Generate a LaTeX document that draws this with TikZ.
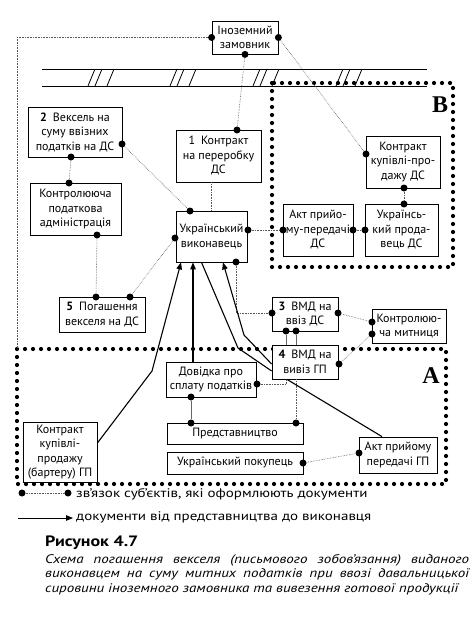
\documentclass[tikz,border=0pt]{standalone}
\usepackage{fontspec}
\setmainfont{PT Sans}
\newfontfamily\widefont{PT Sans}[FakeStretch=1.2]
\newfontfamily\letterfont{Liberation Serif}
\usetikzlibrary{arrows.meta}

\tikzset{
  box/.style={draw, line width=0.8pt, fill=white, align=center, inner sep=1pt,
    font=\fontsize{12}{14.5}\selectfont},
  dot/.style={circle, fill, inner sep=0pt, minimum size=7pt},
  link/.style={black!65, line width=0.6pt, densely dotted},
  tie/.style={black!60, line width=0.8pt},
  region/.style={line width=4.2pt, dash pattern=on 0pt off 8pt, line cap=round},
  doc/.style={line width=1.1pt, -{Triangle[length=7pt,width=5.5pt]}},
  plain/.style={line width=1.1pt},
  letter/.style={font=\letterfont\bfseries\fontsize{24}{24}\selectfont},
  legend/.style={anchor=west, inner sep=0pt, font=\widefont\fontsize{12.5}{14}\selectfont}
}

\begin{document}
\begin{tikzpicture}[x=1pt,y=-1pt]
    \useasboundingbox (0,0) rectangle (471,623);

    % Border line with hatches
    \draw[line width=0.8pt] (42,69) -- (427,69);
    \draw[line width=0.8pt] (42,86) -- (427,86);
    \foreach \h in {88,170,253,336}
      \foreach \s in {0,7,19}
        \draw[line width=0.8pt] ({\h+\s},86) -- ({\h+\s+7},69);

    % Regions B and A
    \draw[region] (272,83) rectangle (453,267);
    \node[letter] (labB) at (440,105) {B};
    \draw[region] (17,349) rectangle (446,484);
    \coordinate (cornA) at (17,349);
    \node[letter] (labA) at (431,376) {A};

    % Foreign customer and contracts
    \node[box, minimum width=66pt, minimum height=33pt] (inoz) at (245,37.5) {Іноземний\\замовник};
    \node[box, minimum width=85pt, minimum height=52pt] (k1) at (218.5,156) {1\enspace Контракт\\на переробку\\ДС};
    \node[box, minimum width=94pt, minimum height=50pt] (v2) at (75,132) {\textbf{2}\enspace Вексель на\\суму ввізних\\податків на ДС};
    \node[box, minimum width=74pt, minimum height=52pt] (kpd) at (403,162) {Контракт\\купівлі-про-\\дажу ДС};

    % Tax office and executor
    \node[box, minimum width=91pt, minimum height=52pt] (kpa) at (75.5,209) {Контролююча\\податкова\\адміністрація};
    \node[box, minimum width=71pt, minimum height=51pt] (vyk) at (211.5,236.5) {Український\\виконавець};
    \node[box, minimum width=70pt, minimum height=52pt] (aktds) at (318,230) {Акт прийо-\\му-передачі\\ДС};
    \node[box, minimum width=73pt, minimum height=52pt] (prodds) at (401.5,230) {Українсь-\\кий прода-\\вець ДС};
    \node[box, minimum width=86pt, minimum height=35pt] (pog5) at (102,314.5) {\textbf{5}\enspace Погашення\\векселя на ДС};

    % Customs declarations
    \node[box, minimum width=66pt, minimum height=34pt] (vmd3) at (305,314) {\textbf{3}\enspace ВМД на\\ввіз ДС};
    \node[box, minimum width=74pt, minimum height=34pt] (mytn) at (409,326) {Контролюю-\\ча митниця};
    \node[box, minimum width=66pt, minimum height=34pt] (vmd4) at (305,362) {\textbf{4}\enspace ВМД на\\вивіз ГП};

    % Region A
    \node[box, minimum width=90pt, minimum height=35pt] (dov) at (211,379.5) {Довідка про\\сплату податків};
    \node[box, minimum width=136pt, minimum height=21pt] (pred) at (235,433.5) {Представництво};
    \node[box, minimum width=136pt, minimum height=22pt] (pok) at (235,463) {Український покупець};
    \node[box, minimum width=78pt, minimum height=36pt] (aktgp) at (398,455) {Акт прийому\\передачі ГП};
    \node[box, minimum width=74pt, minimum height=60pt] (bart) at (60,452) {Контракт\\купівлі-\\продажу\\(бартеру) ГП};

    % Link dots
    \node[dot] (inozW) at (inoz.west) {};
    \node[dot] (inozE) at (inoz.east) {};
    \node[dot] (inozS) at (inoz.south) {};
    \node[dot] (k1N) at (237,130) {};
    \node[dot] (kpdW) at (366,154) {};
    \node[dot] (kpdS) at (404,188) {};
    \node[dot] (v2E) at (122,144) {};
    \node[dot] (v2S) at (71,157) {};
    \node[dot] (kpaN) at (69,183) {};
    \node[dot] (kpaS) at (97,235) {};
    \node[dot] (vykN) at (190,211) {};
    \node[dot] (vykW) at (175,238) {};
    \node[dot] (vykE) at (248,230) {};
    \node[dot] (vykSE) at (236,262) {};
    \node[dot] (aktdsW) at (283,230) {};
    \node[dot] (aktdsE) at (353,230) {};
    \node[dot] (proddsW) at (365,230) {};
    \node[dot] (proddsN) at (404,204) {};
    \node[dot] (pog1) at (96,297) {};
    \node[dot] (pog2) at (130,297) {};
    \node[dot] (vmd3W) at (272,313) {};
    \node[dot] (vmd3E) at (338,313) {};
    \node[dot] (vmd3S1) at (286,331) {};
    \node[dot] (vmd3S2) at (296,331) {};
    \node[dot] (mytnW1) at (372,322) {};
    \node[dot] (mytnW2) at (372,334) {};
    \node[dot] (vmd4E) at (339,364) {};
    \node[dot] (dovE) at (257,384) {};
    \node[dot] (dovS) at (191,397) {};
    \node[dot] (pred1) at (191,423) {};
    \node[dot] (pred2) at (296,423) {};
    \node[dot] (pokE) at (303,463) {};
    \node[dot] (aktgpW) at (359,453) {};

    % Links between subjects
    \draw[link] (inozW) -| (cornA);
    \draw[link] (inozS) -- (k1N);
    \draw[link] (inozE) -- (kpdW);
    \draw[link] (kpdS) -- (proddsN);
    \draw[link] (v2E) -- (vykN);
    \draw[link] (v2S) -- (kpaN);
    \draw[link] (kpaS) -- (pog1);
    \draw[link] (pog2) -- (vykW);
    \draw[link] (k1.south -| vyk.north) -- (vyk.north);
    \draw[link] (vykE) -- (aktdsW);
    \draw[link] (aktdsE) -- (proddsW);
    \draw[link] (vykSE) |- (vmd3W);
    \draw[link] (vmd3E) -- (mytnW1);
    \draw[link] (mytnW2) -- (vmd4E);
    \draw[tie] (vmd3S1) -- (vmd3S1 |- vmd4.north);
    \draw[tie] (vmd3S2) -- (vmd3S2 |- vmd4.north);
    \draw[link] (dovE) -| (vmd3S1 |- vmd4.south);
    \draw[tie] (dovS) -- (pred1);
    \draw[link] (vmd3S2 |- vmd4.south) -- (pred2);
    \draw[link] (pokE) -- (aktgpW);

    % Documents to the executor
    \draw[doc] ([yshift=9pt]bart.east) -- (152,371) -- ([xshift=-30.5pt]vyk.south);
    \draw[doc] ([xshift=-18pt]dov.north) -- ([xshift=-18pt]dov.north |- vyk.south);
    \draw[plain] ([xshift=-10pt]vyk.south) -- (238,348) -- ([yshift=-9pt]vmd4.west);
    \draw[doc] ([yshift=-2pt]vmd4.west) -- (244,335) -- ([xshift=11.5pt]vyk.south);
    \draw[plain] ([xshift=-18pt]vmd4.south) -- ([xshift=-16pt]aktgp.north);

    % Legend
    \node[dot] (lg1) at (22,493) {};
    \node[dot] (lg2) at (68,493) {};
    \draw[link] (lg1) -- (lg2);
    \node[legend] (lgt1) at (76,494) {зв’язок суб’єктів, які оформлюють документи};
    \node[legend] (lgt2) at (76,517) {документи від представництва до виконавця};
    \coordinate (lg3) at (18,518);
    \draw[doc, line width=0.9pt] (lg3) -- ([xshift=-3pt]lgt2.west |- lg3);

    % Caption
    \node[anchor=base west, inner sep=0pt, font=\widefont\fontsize{15}{17}\selectfont\bfseries] (fig) at (45,546) {Рисунок 4.7};
    \node[anchor=north west, inner sep=0pt, text width=424pt, align=justify,
      font=\widefont\fontsize{12.5}{14.5}\selectfont\itshape] (capt) at (45,554)
      {\parfillskip=0pt Схема погашення векселя (письмового зобов’язання) виданого\linebreak
       виконавцем на суму митних податків при ввозі давальницької\linebreak
       сировини іноземного замовника та вивезення готової продукції};
\end{tikzpicture}
\end{document}
